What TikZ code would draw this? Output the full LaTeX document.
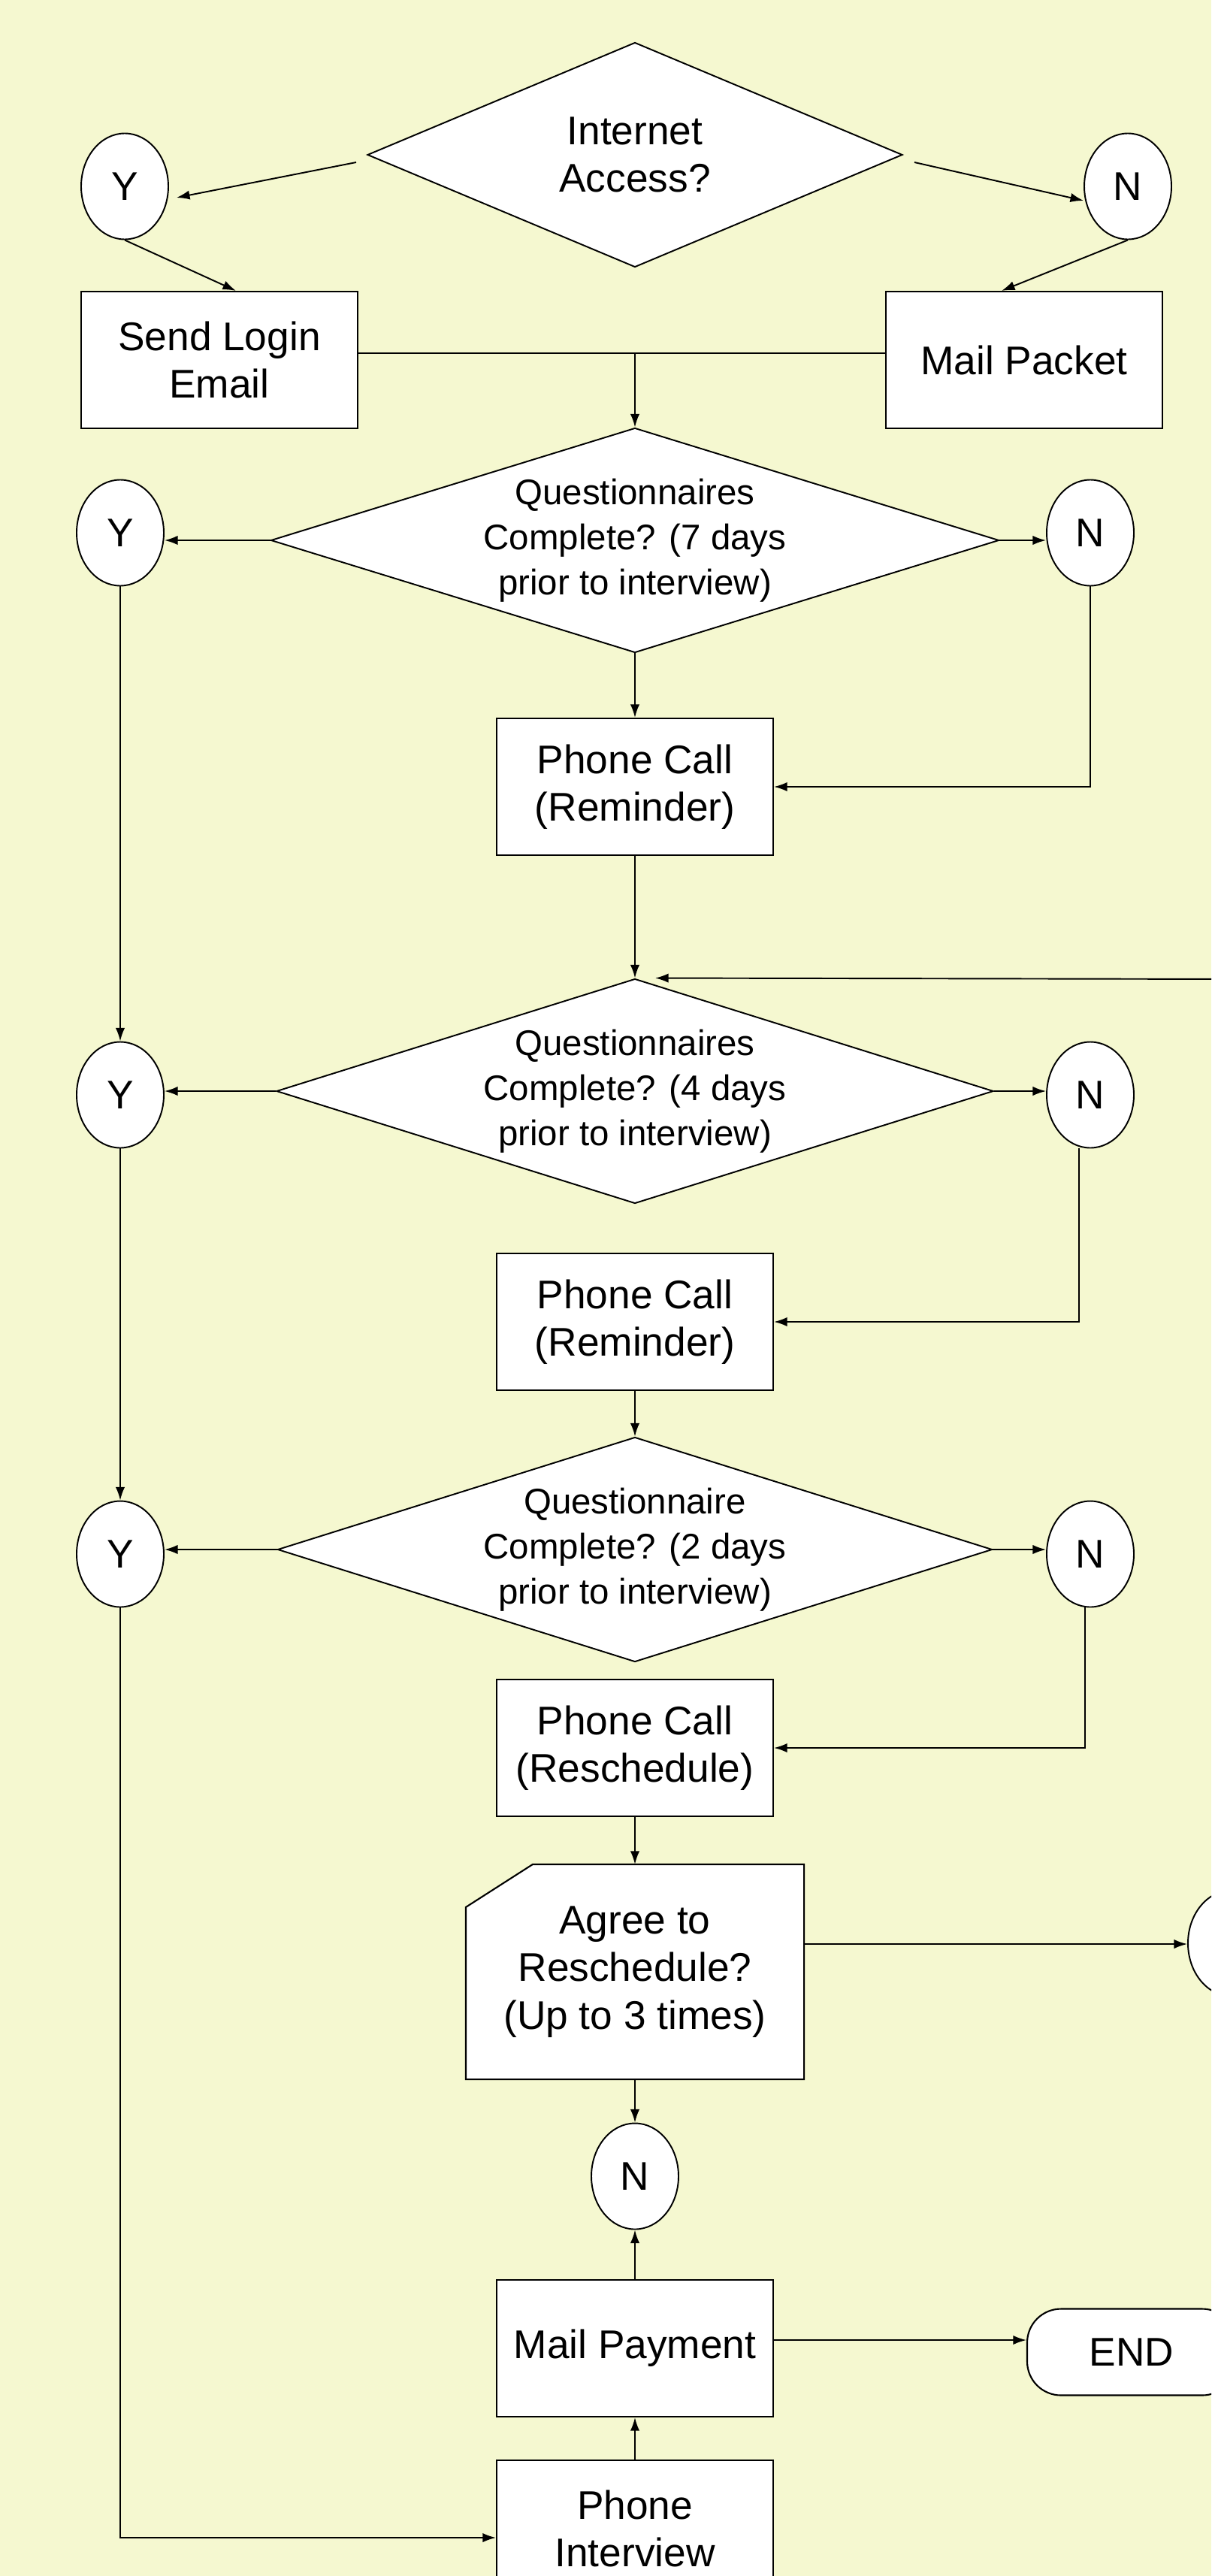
\documentclass[tikz,border=0pt]{standalone}
\usepackage{fontspec}
\setmainfont{Liberation Sans}
\usetikzlibrary{arrows.meta,positioning,shapes.geometric}
\definecolor{bgyel}{RGB}{245,248,208}

\begin{document}
\begin{tikzpicture}[
  every node/.style={align=center, font=\fontsize{30.3}{36}\selectfont},
  box/.style={draw, fill=white, line width=1.2pt, minimum width=7.36cm,
              minimum height=3.64cm, inner sep=0pt},
  dec/.style={draw, fill=white, diamond, aspect=3.2, line width=1.1pt, inner sep=0pt,
              minimum width=19.2cm, minimum height=5.98cm, font=\fontsize{27}{34}\selectfont},
  conn/.style={draw, fill=white, ellipse, line width=1.1pt, inner sep=0pt,
               minimum width=2.32cm, minimum height=2.82cm},
  term/.style={draw, fill=white, line width=1.2pt, rounded corners=0.9cm,
               minimum width=5.56cm, minimum height=2.3cm},
  arr/.style={-{Latex[length=10pt, width=7pt]}, line width=1.1pt},
  link/.style={line width=1.1pt},
]
  % Page
  \useasboundingbox (0,0) rectangle (32.24,-68.56);
  \clip (0,0) rectangle (32.24,-68.56);
  \fill[bgyel] (0,0) rectangle (32.24,-68.56);

  % Top: internet access
  \node[dec, aspect=2.4, minimum width=14.24cm, font=\fontsize{30.3}{36}\selectfont]
    (acc) at (16.9,-4.12) {Internet\\Access?};
  \node[conn] (yt) at (3.32,-4.96) {Y};
  \node[conn] (nt) at (30.02,-4.96) {N};
  \node[box] (login) at (5.84,-9.58) {Send Login\\Email};
  \node[box] (mail)  at (27.26,-9.58) {Mail Packet};

  % Check 7 days before
  \node[dec, minimum width=19.38cm] (q1) at (16.9,-14.38)
    {Questionnaires\\Complete? (7 days\\prior to interview)};
  \node[conn] (y1) at (3.2,-14.18) {Y};
  \node[conn] (n1) at (29.02,-14.18) {N};
  \node[box] (call1) at (16.9,-20.94) {Phone Call\\(Reminder)};

  % Check 4 days before
  \node[dec, minimum width=19.08cm] (q2) at (16.9,-29.04)
    {Questionnaires\\Complete? (4 days\\prior to interview)};
  \node[conn] (y2) at (3.2,-29.14) {Y};
  \node[conn] (n2) at (29.02,-29.14) {N};
  \node[box] (call2) at (16.9,-35.18) {Phone Call\\(Reminder)};

  % Check 2 days before
  \node[dec, minimum width=19.02cm] (q3) at (16.9,-41.24)
    {Questionnaire\\Complete? (2 days\\prior to interview)};
  \node[conn] (y3) at (3.2,-41.36) {Y};
  \node[conn] (n3) at (29.02,-41.36) {N};
  \node[box] (call3) at (16.9,-46.52) {Phone Call\\(Reschedule)};

  % Reschedule, payment, end
  \node[box, draw=none, minimum width=8.96cm, minimum height=5.68cm]
    (agree) at (16.9,-52.48) {Agree to\\Reschedule?\\(Up to 3 times)};
  \fill[bgyel] (agree.north west) -- ([xshift=1.78cm]agree.north west)
    -- ([yshift=-1.14cm]agree.north west) -- cycle;
  \draw[line width=1.2pt] ([xshift=1.78cm]agree.north west) -- (agree.north east)
    -- (agree.south east) -- (agree.south west) -- ([yshift=-1.14cm]agree.north west) -- cycle;
  \node[conn] (yr) at (32.78,-51.72) {};
  \node[conn] (nb) at (16.9,-57.92) {N};
  \node[box]  (pay) at (16.9,-62.5) {Mail Payment};
  \node[term] (fin) at (30.12,-62.6) {END};
  \node[box]  (intv) at (16.9,-67.3) {Phone\\Interview};
  \coordinate (back) at (33,-26.06);

  % Arrows at the top
  \draw[arr] ([shift={(-0.28,-0.2)}]acc.west) -- ([shift={(0.2,-0.3)}]yt.east);
  \draw[arr] ([shift={(0.3,-0.2)}]acc.east) -- ([yshift=-0.38cm]nt.west);
  \draw[arr] (yt.south) -- ([xshift=0.44cm]login.north);
  \draw[arr] (nt.south) -- ([xshift=-0.6cm]mail.north);
  \path ([yshift=0.18cm]login.east) coordinate (lj);
  \draw[link] (lj) -- (lj -| mail.west);
  \draw[arr] (lj -| q1.north) -- (q1.north);

  % 7 days
  \draw[arr] (q1.west) -- (q1.west -| y1.east);
  \draw[arr] (q1.east) -- (q1.east -| n1.west);
  \draw[arr] (q1.south) -- (call1.north);
  \draw[arr] (n1.south) |- (call1.east);
  \draw[arr] (y1.south) -- (y2.north);
  \draw[arr] (call1.south) -- (q2.north);
  \draw[arr] (back) -- ([xshift=0.54cm]q2.north);

  % 4 days
  \draw[arr] (q2.west) -- (q2.west -| y2.east);
  \draw[arr] (q2.east) -- (q2.east -| n2.west);
  \draw[arr] ([xshift=-0.3cm]n2.south) |- (call2.east);
  \draw[arr] (y2.south) -- (y3.north);
  \draw[arr] (call2.south) -- (q3.north);

  % 2 days
  \draw[arr] (q3.west) -- (q3.west -| y3.east);
  \draw[arr] (q3.east) -- (q3.east -| n3.west);
  \draw[arr] ([xshift=-0.14cm]n3.south) |- (call3.east);
  \draw[arr] (call3.south) -- (agree.north);

  % Bottom part
  \path ([yshift=0.74cm]agree.east) coordinate (ag);
  \draw[arr] (ag) -- (ag -| yr.west);
  \draw[arr] (agree.south) -- (nb.north);
  \draw[arr] (pay.north) -- (nb.south);
  \draw[arr] (intv.north) -- (pay.south);
  \path ([yshift=0.22cm]pay.east) coordinate (pe);
  \draw[arr] (pe) -- (pe -| fin.west);
  \draw[arr] (y3.south) |- ([yshift=-0.24cm]intv.west);
\end{tikzpicture}
\end{document}
